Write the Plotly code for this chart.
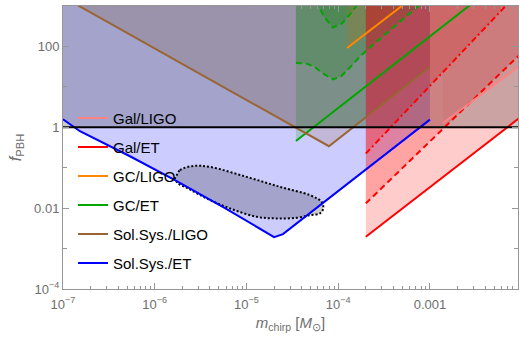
import plotly.graph_objects as go

# ---------------- data ----------------
# Sol.Sys./ET  (blue)
sol_et_m = [1.00e-7, 1.29e-7, 1.53e-7, 5.37e-7, 1.66e-6, 5.83e-6, 2.00e-5, 2.50e-5, 1.00e-3]
sol_et_f = [1.58, 1.06, 0.80, 0.192, 0.0491, 0.0100, 1.92e-3, 2.28e-3, 1.55]
# Sol.Sys./LIGO (brown)
sol_ligo_m = [1.17e-7, 7.92e-5, 1.00e-3]
sol_ligo_f = [1370, 0.340, 31.0]
# GC/ET (green) solid + dashed variants
gc_et_m = [3.46e-5, 3.17e-3]
gc_et_f = [0.459, 1370]
gc_et_d1_m = [3.46e-5, 4.45e-5, 5.44e-5, 6.82e-5, 8.77e-5, 1.072e-4, 1.343e-4, 1.726e-4, 2.22e-4, 3.95e-4, 7.22e-4, 8.82e-4]
gc_et_d1_f = [38.7, 38.0, 32.1, 21.5, 15.3, 18.2, 30.3, 56.6, 94.5, 294, 918, 1370]
gc_et_d2_m = [5.86e-5, 6.16e-5, 6.99e-5, 8.77e-5, 1.099e-4, 1.343e-4, 1.561e-4, 1.64e-4]
gc_et_d2_f = [1370, 972, 550, 294, 370, 617, 972, 1370]
gc_band_m = [3.46e-5, 5.37e-5, 2.0e-4]
gc_band_f = [0.459, 1.0, 1.0]
# GC/LIGO (orange)
gc_ligo_m = [1.25e-4, 5.90e-4]
gc_ligo_f = [91.8, 1370]
# Gal/ET (red) solid, dashed, dash-dot
gal_et_m = [2.0e-4, 1.23e-2]
gal_et_f = [1.96e-3, 2.72]
gal_et_dash_m = [2.0e-4, 1.23e-2]
gal_et_dash_f = [1.31e-2, 110]
gal_et_dd_m = [2.0e-4, 7.63e-3]
gal_et_dd_f = [0.224, 1370]
# Gal/LIGO (pink)
gal_ligo_m = [1.39e-3, 1.23e-2]
gal_ligo_f = [1.28, 51.1]
# dotted closed region
ell_m = [1.735e-6, 1.885e-6, 2.63e-6, 4.00e-6, 1.005e-5, 2.32e-5, 4.92e-5, 6.60e-5, 6.87e-5, 6.32e-5,
         4.92e-5, 3.52e-5, 2.13e-5, 1.292e-5, 6.61e-6, 3.68e-6, 2.32e-6, 1.806e-6, 1.663e-6, 1.735e-6]
ell_f = [0.0653, 0.0868, 0.1108, 0.1047, 0.0593, 0.0336, 0.0209, 0.01431, 9.83e-3, 7.40e-3,
         6.72e-3, 5.76e-3, 5.57e-3, 6.10e-3, 9.83e-3, 0.01737, 0.0306, 0.0407, 0.0541, 0.0653]

x_ticks = [1e-7, 1e-6, 1e-5, 1e-4, 1e-3]
x_ticktext = ["10<sup>−7</sup>", "10<sup>−6</sup>", "10<sup>−5</sup>", "10<sup>−4</sup>", "0.001"]
y_ticks = [1e-4, 1e-2, 1, 100]
y_ticktext = ["10<sup>−4</sup>", "0.01", "1", "100"]
y_minor = [1e-3, 1e-1, 10]
x_minor = [k * 10 ** e for e in range(-7, -2) for k in range(2, 10)]

X_LO, X_HI = 1e-7, 10 ** -2.04
TOP = 1e4

BLUE = "rgb(0,0,255)"
BROWN = "rgb(153,102,51)"
GREEN = "rgb(0,165,0)"
ORANGE = "rgb(255,136,0)"
RED = "rgb(255,0,0)"
PINK = "rgb(255,130,130)"


def rgba(c, a):
    return c.replace("rgb(", "rgba(").replace(")", f",{a})")


fig = go.Figure()


def fill_above(m, f, color, alpha=0.2):
    xs = list(m) + [m[-1], m[0], m[0]]
    ys = list(f) + [TOP, TOP, f[0]]
    fig.add_trace(go.Scatter(x=xs, y=ys, mode="lines", fill="toself",
                             fillcolor=rgba(color, alpha), line=dict(width=0),
                             showlegend=False, hoverinfo="skip"))


# fills
fill_above(sol_et_m, sol_et_f, BLUE)
fill_above(sol_ligo_m, sol_ligo_f, BROWN)
fill_above(gc_band_m, gc_band_f, GREEN)
fill_above(gc_et_d1_m, gc_et_d1_f, GREEN)
fill_above(gc_et_d2_m, gc_et_d2_f, GREEN)
fill_above(gc_ligo_m, gc_ligo_f, ORANGE)
fill_above(gal_et_m, gal_et_f, RED)
fill_above(gal_et_dash_m, gal_et_dash_f, RED)
fill_above(gal_et_dd_m, gal_et_dd_f, RED)
fill_above(gal_ligo_m, gal_ligo_f, PINK)

# dotted region fill
fig.add_trace(go.Scatter(x=ell_m, y=ell_f, mode="lines", fill="toself",
                         fillcolor="rgba(0,0,0,0.2)", line=dict(width=0, shape="spline"),
                         showlegend=False, hoverinfo="skip"))

# overlay above f_PBH = 1
fig.add_trace(go.Scatter(x=[X_LO / 2, X_HI * 2, X_HI * 2, X_LO / 2, X_LO / 2], y=[1, 1, TOP, TOP, 1],
                         mode="lines", fill="toself", fillcolor="rgba(0,0,0,0.2)",
                         line=dict(width=0), showlegend=False, hoverinfo="skip"))

# lines
def add_line(m, f, color, name=None, dash="solid", rank=None, group=None):
    fig.add_trace(go.Scatter(x=m, y=f, mode="lines", name=name,
                             line=dict(color=color, width=2, dash=dash),
                             showlegend=name is not None, legendrank=rank or 1000,
                             legendgroup=group, hoverinfo="skip"))


add_line(gc_et_d1_m, gc_et_d1_f, GREEN, dash="6px,4px")
add_line(gc_et_d2_m, gc_et_d2_f, GREEN, dash="6px,4px")
add_line(gal_et_dash_m, gal_et_dash_f, RED, dash="6px,4px")
add_line(gal_et_dd_m, gal_et_dd_f, RED, dash="6px,3px,2px,3px")
add_line(ell_m, ell_f, "black", dash="2px,2px")
fig.data[-1].line.shape = "spline"

add_line(gal_ligo_m, gal_ligo_f, PINK, "Gal/LIGO", rank=1, group="a")
add_line(gal_et_m, gal_et_f, RED, "Gal/ET", rank=2, group="b")
add_line(gc_ligo_m, gc_ligo_f, ORANGE, "GC/LIGO", rank=3, group="c")
add_line(gc_et_m, gc_et_f, GREEN, "GC/ET", rank=4, group="d")
add_line(sol_ligo_m, sol_ligo_f, BROWN, "Sol.Sys./LIGO", rank=5, group="e")
add_line(sol_et_m, sol_et_f, BLUE, "Sol.Sys./ET", rank=6, group="f")

# f_PBH = 1 line
fig.add_trace(go.Scatter(x=[X_LO / 2, X_HI * 2], y=[1, 1], mode="lines",
                         line=dict(color="black", width=2), showlegend=False, hoverinfo="skip"))

AX = "rgb(150,150,150)"
FAM = "Liberation Sans, Arial, sans-serif"
TICKF = dict(family=FAM, size=13, color="rgb(110,110,110)")

fig.update_layout(
    width=519, height=337,
    margin=dict(l=63, r=1, t=6, b=48),
    paper_bgcolor="white", plot_bgcolor="white",
    font=dict(family=FAM),
    showlegend=True,
    legend=dict(x=0.022, xanchor="left", y=0.662, yanchor="top",
                bgcolor="rgba(0,0,0,0)", tracegroupgap=6.5,
                font=dict(family=FAM, size=15, color="black")),
    xaxis=dict(type="log", range=[-7, -2.04], showgrid=False, zeroline=False,
               tickmode="array", tickvals=x_ticks, ticktext=x_ticktext,
               ticks="inside", ticklen=6, tickcolor=AX, linecolor=AX, linewidth=1,
               mirror="ticks", showline=True, tickfont=TICKF, ticklabelstandoff=3,
               minor=dict(tickmode="array", tickvals=x_minor, ticks="inside", ticklen=3, tickcolor=AX),
               title=dict(text="<i>m</i><sub>chirp</sub> [<i>M</i><sub>⊙</sub>]",
                          font=dict(family=FAM, size=15, color="rgb(110,110,110)"), standoff=6)),
    yaxis=dict(type="log", range=[-4, 3], showgrid=False, zeroline=False,
               tickmode="array", tickvals=y_ticks, ticktext=y_ticktext,
               ticks="inside", ticklen=6, tickcolor=AX, linecolor=AX, linewidth=1,
               mirror="ticks", showline=True, tickfont=TICKF,
               minor=dict(tickmode="array", tickvals=y_minor, ticks="inside", ticklen=4, tickcolor=AX),
               title=dict(text="<i>f</i><sub>PBH</sub>",
                          font=dict(family=FAM, size=16, color="rgb(110,110,110)"), standoff=8)),
)

fig.write_html("out.html")
